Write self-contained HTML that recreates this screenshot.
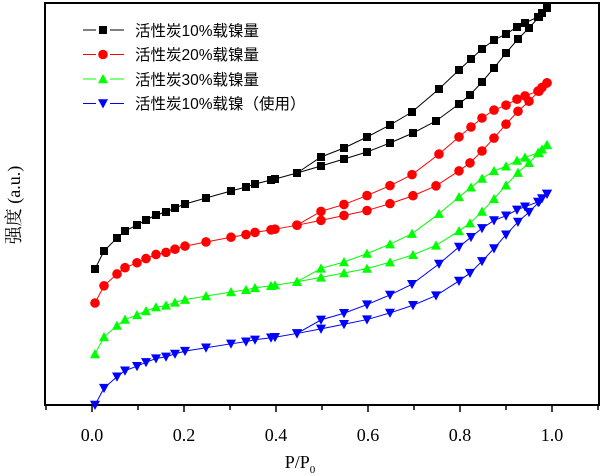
<!DOCTYPE html>
<html><head><meta charset="utf-8">
<style>html,body{margin:0;padding:0;background:#fff;}svg{display:block}</style>
</head><body>
<svg id="s" width="600" height="476" xmlns="http://www.w3.org/2000/svg">
<rect x="45" y="3" width="554" height="402" fill="none" stroke="#000" stroke-width="2"/>
<g font-family="Liberation Serif, serif" font-size="18" text-anchor="middle" fill="#000">
<text x="92" y="441">0.0</text><text x="184" y="441">0.2</text><text x="276" y="441">0.4</text>
<text x="368" y="441">0.6</text><text x="460" y="441">0.8</text><text x="552" y="441">1.0</text>
<text x="300" y="468">P/P<tspan font-size="11" dy="5">0</tspan></text>
</g>
<text transform="translate(20,205) rotate(-90)" font-family="Liberation Serif, 'Noto Serif CJK SC', serif" font-size="18" text-anchor="middle">强度 (a.u.)</text>
<g id="ticks" stroke="#000" stroke-width="1.5"></g>
<g id="data"></g>
<g font-family="'Liberation Sans','Noto Sans CJK SC',sans-serif" font-size="15.5" fill="#000">
<text x="135" y="36">活性炭10%载镍量</text>
<text x="135" y="60">活性炭20%载镍量</text>
<text x="135" y="85">活性炭30%载镍量</text>
<text x="135" y="109">活性炭10%载镍（使用）</text>
</g>
<g id="leg"></g>
</svg>
<script>
var NS="http://www.w3.org/2000/svg";
function el(p,t,a){var e=document.createElementNS(NS,t);for(var k in a)e.setAttribute(k,a[k]);p.appendChild(e);return e;}
var tk=document.getElementById('ticks');
for(var i=-1;i<=11;i++){var x=92+i*46;el(tk,'line',{x1:x,y1:405,x2:x,y2:i%2==0?412:410});}
var ads=[[95,269],[104,251],[117,238],[125,231],[137,225],[146,220],[156,215],[166,212],[175,208],[185,204],[206,198],[231,191],[246,187],[255,184],[271,180],[275,179],[297,173],[321,166],[344,159],[367,152],[390,143],[413,133],[436,121],[459,104],[470,95],[482,82],[494,68],[506,53],[518,39],[529,28],[539,17],[547,8]];
var des=[[547,8],[542,13],[538,17],[525,23],[517,27],[506,34],[494,40],[482,49],[471,59],[459,70],[439,89],[412,112],[390,125],[367,137],[344,148],[321,157],[297,173]];
var S=[{c:'#000',o:[0,0,0],m:'sq'},{c:'#f00',o:[34,50,75],m:'ci'},{c:'#0f0',o:[85,106,137],m:'tu'},{c:'#00f',o:[136,158,186],m:'td'}];
function off(o,x){return x<273?o[0]+(o[1]-o[0])*(x-95)/178:o[1]+(o[2]-o[1])*(x-273)/275;}
function mark(g,m,x,y,c){
 if(m=='sq')el(g,'rect',{x:x-4,y:y-4,width:8,height:8,fill:c});
 else if(m=='ci')el(g,'circle',{cx:x,cy:y,r:4.8,fill:c});
 else if(m=='tu')el(g,'polygon',{points:(x-5)+','+(y+4.2)+' '+(x+5)+','+(y+4.2)+' '+x+','+(y-5),fill:c});
 else el(g,'polygon',{points:(x-5)+','+(y-4.2)+' '+(x+5)+','+(y-4.2)+' '+x+','+(y+5),fill:c});
}
var d=document.getElementById('data');
S.forEach(function(s){
 [ads,des].forEach(function(arr){
  var pts=arr.map(function(p){return [p[0],p[1]+off(s.o,p[0])];});
  el(d,'polyline',{points:pts.map(function(p){return p.join(',')}).join(' '),fill:'none',stroke:s.c,'stroke-width':1});
  pts.forEach(function(p){mark(d,s.m,p[0],p[1],s.c);});
 });
});
var lg=document.getElementById('leg');
S.forEach(function(s,i){var y=30+i*24.5;
 el(lg,'line',{x1:83,y1:y,x2:96,y2:y,stroke:s.c,'stroke-width':1});
 el(lg,'line',{x1:110,y1:y,x2:124,y2:y,stroke:s.c,'stroke-width':1});
 mark(lg,s.m,103,y,s.c);});
</script>
</body></html>
